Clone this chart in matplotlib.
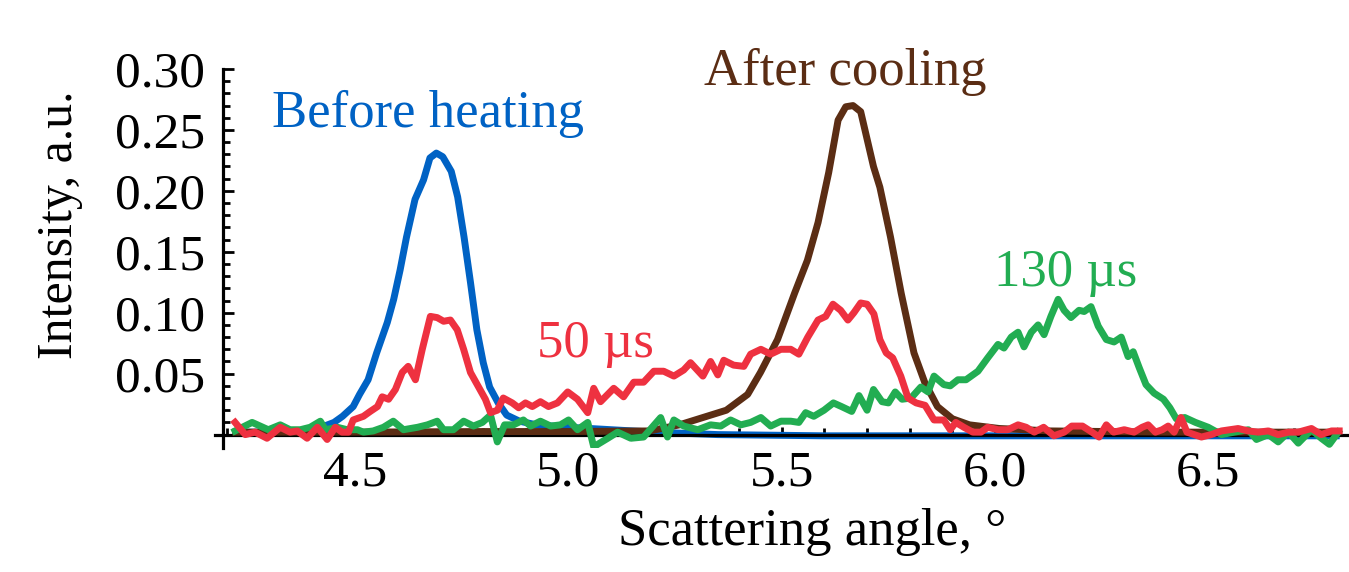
import matplotlib.pyplot as plt
import numpy as np
from matplotlib.ticker import FixedLocator

plt.rcParams['font.family'] = ['Liberation Serif', 'DejaVu Serif']

# Before heating (blue)
blue_x = [4.22, 4.26, 4.30, 4.34, 4.37, 4.42, 4.45, 4.47, 4.495, 4.51, 4.53, 4.55, 4.575, 4.59, 4.605,
          4.62, 4.64, 4.66, 4.675, 4.69, 4.705, 4.725, 4.74, 4.755, 4.77, 4.785, 4.80, 4.815, 4.835,
          4.855, 4.885, 4.925, 5.00, 5.10, 5.20, 5.35, 5.60, 6.00, 6.40, 6.80]
blue_y = [0.002, 0.002, 0.002, 0.002, 0.003, 0.006, 0.010, 0.015, 0.023, 0.033, 0.045, 0.067, 0.092,
          0.111, 0.135, 0.162, 0.193, 0.209, 0.227, 0.231, 0.228, 0.216, 0.195, 0.162, 0.125, 0.086,
          0.059, 0.039, 0.026, 0.016, 0.011, 0.008, 0.006, 0.004, 0.002, 0.0, -0.001, -0.001, -0.001, -0.001]

# After cooling (brown)
brown_x = [4.22, 4.50, 4.80, 5.00, 5.19, 5.26, 5.37, 5.42, 5.45, 5.49, 5.53, 5.56, 5.585, 5.61, 5.632,
           5.65, 5.667, 5.685, 5.715, 5.73, 5.755, 5.78, 5.81, 5.835, 5.865, 5.90, 5.94, 6.01, 6.13, 6.40, 6.80]
brown_y = [0.002, 0.002, 0.0025, 0.0025, 0.003, 0.008, 0.020, 0.033, 0.051, 0.078, 0.116, 0.143, 0.174,
           0.215, 0.258, 0.269, 0.270, 0.265, 0.220, 0.203, 0.162, 0.116, 0.067, 0.043, 0.023, 0.013,
           0.008, 0.005, 0.003, 0.002, 0.002]

# 50 us (red)
red_x = [4.218, 4.242, 4.265, 4.293, 4.324, 4.347, 4.364, 4.387, 4.411, 4.434, 4.453, 4.469, 4.484,
         4.495, 4.519, 4.535, 4.552, 4.563, 4.578, 4.594, 4.610, 4.624, 4.641, 4.657, 4.676, 4.692,
         4.707, 4.723, 4.739, 4.754, 4.770, 4.789, 4.805, 4.817, 4.833, 4.847, 4.868, 4.883, 4.899,
         4.915, 4.934, 4.953, 4.974, 4.998, 5.021, 5.045, 5.059, 5.075, 5.106, 5.129, 5.153, 5.176,
         5.200, 5.223, 5.247, 5.270, 5.286, 5.315, 5.333, 5.350, 5.364, 5.387, 5.411, 5.427, 5.451,
         5.474, 5.498, 5.521, 5.540, 5.561, 5.585, 5.603, 5.620, 5.638, 5.655, 5.669, 5.685, 5.700,
         5.716, 5.730, 5.745, 5.760, 5.779, 5.796, 5.815, 5.836, 5.857, 5.880, 5.895, 5.908, 5.927,
         5.948, 5.967, 5.983, 6.007, 6.030, 6.054, 6.073, 6.092, 6.114, 6.138, 6.162, 6.180, 6.205,
         6.223, 6.244, 6.261, 6.278, 6.303, 6.326, 6.345, 6.359, 6.376, 6.392, 6.406, 6.420, 6.436,
         6.450, 6.484, 6.507, 6.531, 6.570, 6.594, 6.617, 6.641, 6.664, 6.688, 6.711, 6.742, 6.765,
         6.789, 6.807]
red_y = [0.010, 0.000, 0.002, -0.003, 0.006, 0.002, 0.003, -0.003, 0.006, -0.004, 0.006, 0.002, 0.002,
         0.012, 0.015, 0.019, 0.023, 0.031, 0.029, 0.037, 0.051, 0.056, 0.045, 0.070, 0.097, 0.096,
         0.093, 0.094, 0.086, 0.070, 0.051, 0.039, 0.029, 0.018, 0.020, 0.030, 0.026, 0.022, 0.026,
         0.023, 0.027, 0.023, 0.026, 0.035, 0.029, 0.018, 0.038, 0.027, 0.038, 0.031, 0.043, 0.043,
         0.052, 0.052, 0.048, 0.053, 0.059, 0.048, 0.060, 0.049, 0.061, 0.057, 0.056, 0.066, 0.070,
         0.066, 0.070, 0.070, 0.066, 0.080, 0.094, 0.097, 0.107, 0.102, 0.094, 0.100, 0.108, 0.107,
         0.099, 0.078, 0.067, 0.063, 0.048, 0.030, 0.026, 0.024, 0.012, 0.012, 0.004, 0.010, 0.006,
         0.002, 0.002, 0.006, 0.004, 0.004, 0.008, 0.006, 0.002, 0.006, -0.001, 0.002, 0.007, 0.007,
         0.003, -0.002, 0.008, 0.002, 0.004, 0.002, 0.006, 0.008, 0.002, 0.004, 0.007, 0.002, 0.014,
         0.002, -0.002, 0.000, 0.003, 0.005, 0.003, 0.002, 0.003, 0.000, 0.002, 0.002, 0.005, 0.000,
         0.003, 0.003]

# 130 us (green)
green_x = [4.218, 4.258, 4.277, 4.296, 4.324, 4.347, 4.371, 4.394, 4.418, 4.430, 4.458, 4.481, 4.505,
           4.519, 4.542, 4.566, 4.589, 4.613, 4.646, 4.669, 4.692, 4.707, 4.730, 4.754, 4.777, 4.798,
           4.817, 4.833, 4.850, 4.871, 4.894, 4.911, 4.934, 4.958, 4.981, 5.000, 5.021, 5.045, 5.059,
           5.092, 5.115, 5.146, 5.176, 5.216, 5.232, 5.247, 5.270, 5.303, 5.333, 5.357, 5.380, 5.404,
           5.427, 5.451, 5.474, 5.498, 5.521, 5.540, 5.556, 5.575, 5.599, 5.621, 5.640, 5.664, 5.681,
           5.700, 5.715, 5.735, 5.750, 5.766, 5.782, 5.803, 5.826, 5.843, 5.857, 5.880, 5.895, 5.913,
           5.932, 5.960, 5.983, 6.007, 6.021, 6.038, 6.054, 6.068, 6.085, 6.101, 6.115, 6.131, 6.148,
           6.162, 6.178, 6.197, 6.209, 6.225, 6.242, 6.261, 6.279, 6.296, 6.312, 6.324, 6.338, 6.354,
           6.373, 6.395, 6.410, 6.425, 6.445, 6.470, 6.500, 6.531, 6.561, 6.594, 6.613, 6.641, 6.664,
           6.688, 6.711, 6.742, 6.765, 6.784, 6.805]
green_y = [0.003, 0.010, 0.007, 0.004, 0.008, 0.004, 0.004, 0.006, 0.011, 0.004, 0.006, 0.004, 0.004,
           0.002, 0.003, 0.006, 0.011, 0.004, 0.006, 0.008, 0.011, 0.004, 0.004, 0.011, 0.007, 0.010,
           0.016, -0.006, 0.008, 0.008, 0.012, 0.007, 0.011, 0.007, 0.008, 0.012, 0.004, 0.010, -0.010,
           -0.003, 0.002, -0.003, -0.002, 0.014, -0.002, 0.012, 0.007, 0.004, 0.008, 0.007, 0.012, 0.008,
           0.010, 0.014, 0.007, 0.011, 0.011, 0.010, 0.018, 0.015, 0.020, 0.026, 0.023, 0.019, 0.032,
           0.020, 0.037, 0.027, 0.026, 0.035, 0.029, 0.030, 0.039, 0.035, 0.048, 0.041, 0.040, 0.045,
           0.045, 0.052, 0.063, 0.074, 0.071, 0.080, 0.084, 0.072, 0.084, 0.090, 0.082, 0.097, 0.111,
           0.102, 0.096, 0.102, 0.101, 0.105, 0.089, 0.078, 0.076, 0.080, 0.064, 0.068, 0.055, 0.041,
           0.034, 0.029, 0.022, 0.013, 0.014, 0.010, 0.006, 0.000, 0.002, 0.004, -0.004, 0.000, -0.006,
           0.002, -0.007, 0.004, -0.003, -0.008, 0.002]

y_ticks = [0.05, 0.10, 0.15, 0.20, 0.25, 0.30]
y_tick_labels = ['0.05', '0.10', '0.15', '0.20', '0.25', '0.30']
x_ticks = [4.5, 5.0, 5.5, 6.0, 6.5]
x_tick_labels = ['4.5', '5.0', '5.5', '6.0', '6.5']

c_blue = '#0062C4'
c_brown = '#5B2D14'
c_green = '#22AD52'
c_red = '#EE3140'

W, H = 1349, 572
fig = plt.figure(figsize=(W / 100, H / 100), dpi=100)
ax = fig.add_axes([215 / W, (H - 448) / H, (W - 215) / W, (448 - 69) / H])

lw = 5
ax.plot(blue_x, blue_y, color=c_blue, lw=lw, zorder=2)
ax.plot(brown_x, brown_y, color=c_brown, lw=lw, zorder=3)
ax.plot(green_x, green_y, color=c_green, lw=lw, zorder=4)
ax.plot(red_x, red_y, color=c_red, lw=lw, zorder=5)

ax.set_xlim(4.171, 6.83)
ax.set_ylim(-0.011, 0.30)

for s in ['top', 'right']:
    ax.spines[s].set_visible(False)
ax.spines['left'].set_position(('data', 4.19))
ax.spines['bottom'].set_position(('data', 0))
ax.spines['left'].set_linewidth(2.3)
ax.spines['bottom'].set_linewidth(2.3)

ax.set_xticks(x_ticks)
ax.set_xticklabels(x_tick_labels)
ax.xaxis.set_minor_locator(FixedLocator(np.arange(4.2, 6.85, 0.1)))
ax.set_yticks(y_ticks)
ax.set_yticklabels(y_tick_labels)
ax.yaxis.set_minor_locator(FixedLocator(np.arange(0.01, 0.30, 0.01)))

ax.tick_params(axis='x', which='major', direction='in', length=6, width=2, labelsize=37, pad=11)
ax.tick_params(axis='x', which='minor', direction='in', length=5, width=2)
ax.tick_params(axis='y', which='major', direction='in', length=8, width=2, labelsize=37, pad=13)
ax.tick_params(axis='y', which='minor', direction='in', length=5, width=2)

fs = 38
ax.text(4.305, 0.2525, 'Before heating', color=c_blue, fontsize=fs, ha='left', va='baseline')
ax.text(5.317, 0.287, 'After cooling', color=c_brown, fontsize=fs, ha='left', va='baseline')
ax.text(4.927, 0.064, '50 µs', color=c_red, fontsize=fs, ha='left', va='baseline')
ax.text(5.998, 0.122, '130 µs', color=c_green, fontsize=fs, ha='left', va='baseline')

fig.text(812 / W, 1 - 545 / H, 'Scattering angle, °', fontsize=fs, ha='center', va='baseline')
fig.text(60 / W, 1 - 225 / H, 'Intensity, a.u.', fontsize=36, rotation=90, ha='center', va='center')

fig.savefig('out.png', dpi=100)
